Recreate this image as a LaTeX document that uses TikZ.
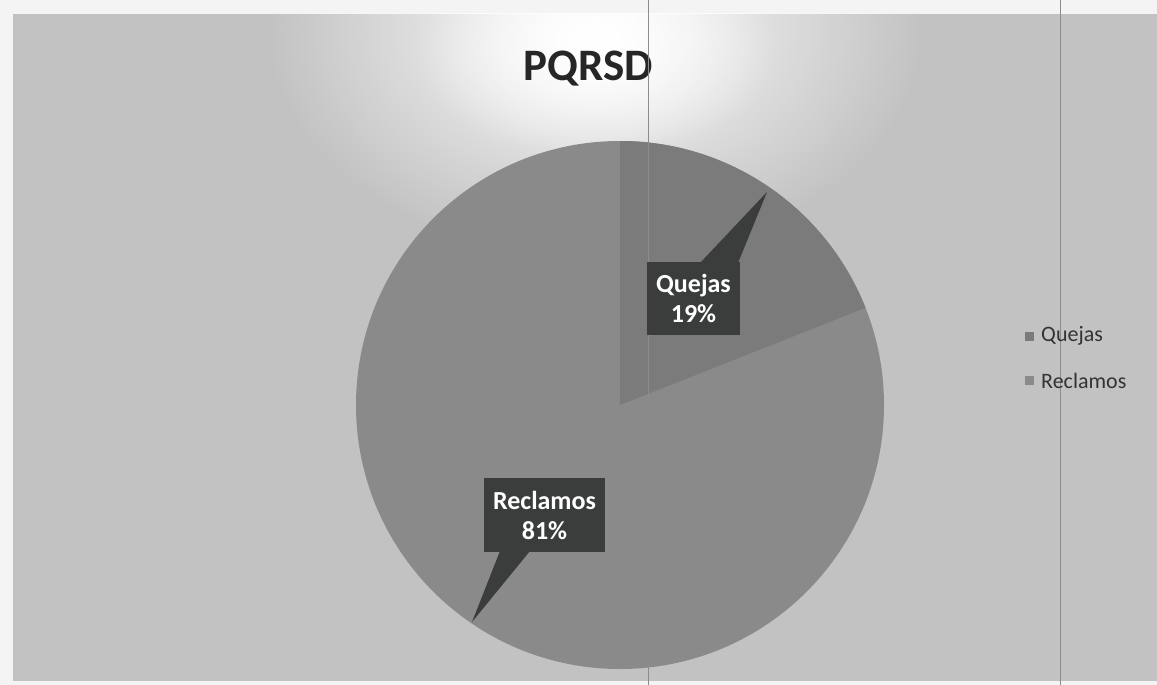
\documentclass[tikz,border=0pt]{standalone}
\usepackage{fontspec}
\setmainfont{Carlito}
\usetikzlibrary{fadings}
\definecolor{bgpage}{HTML}{F4F4F4}
\definecolor{bggray}{HTML}{C2C2C2}
\definecolor{slicer}{HTML}{8A8A8A}
\definecolor{sliceq}{HTML}{7B7B7B}
\definecolor{lbox}{HTML}{3B3D3D}
\definecolor{foldline}{HTML}{8C8C8C}
\tikzfading[name=glowfade, inner color=transparent!0, outer color=transparent!100]
\tikzset{
  lab/.style={fill=lbox, text=white, font=\fontsize{26}{30}\selectfont\bfseries, align=center, inner sep=0pt, minimum width=0pt},
  legsq/.style={minimum size=9pt, inner sep=0pt},
  legtext/.style={anchor=west, font=\fontsize{22}{26}\selectfont, text=black!80, inner sep=0pt},
}
\begin{document}
\begin{tikzpicture}[x=1pt,y=-1pt]
\useasboundingbox (0,0) rectangle (1157,685);
\fill[bgpage] (0,0) rectangle (1157,685);
\fill[bggray] (13,14) rectangle (1157,681);
\begin{scope}
\clip (13,14) rectangle (1157,681);
\fill[white, path fading=glowfade, fit fading=true] (595,30) ellipse[x radius=330, y radius=230];
\fill[white, path fading=glowfade, fit fading=true] (595,50) ellipse[x radius=180, y radius=110];
\end{scope}
% title
\node[font=\fontsize{45}{50}\selectfont\bfseries, text=black!85] (title) at (588,69) {PQRSD};
% pie
\coordinate (c) at (620,405);
\fill[slicer] (c) circle[radius=264];
\fill[sliceq] (c) -- (620,141) arc[start angle=-90, end angle=-21.6, radius=264] -- cycle;
% fold lines
\draw[foldline, line width=1pt] (648,0) -- (648,685);
\draw[foldline, line width=1pt] (1060,0) -- (1060,685);
% Quejas label
\coordinate (qtip) at (767,192);
\fill[lbox] (700,263) -- (qtip) -- (738,263) -- cycle;
\node[lab, minimum width=93pt, minimum height=73pt] (qlab) at (693.5,298.5) {Quejas\\19\%};
% Reclamos label
\coordinate (rtip) at (472,622);
\fill[lbox] (500,551) -- (rtip) -- (530,551) -- cycle;
\node[lab, minimum width=121pt, minimum height=74pt] (rlab) at (544.5,515) {Reclamos\\81\%};
% legend
\node[legsq, fill=sliceq] (lq) at (1029.5,336.5) {};
\node[legtext] (lqt) at (1041,336) {Quejas};
\node[legsq, fill=slicer] (lr) at (1029.5,380.5) {};
\node[legtext] (lrt) at (1041,381) {Reclamos};
\end{tikzpicture}
\end{document}
